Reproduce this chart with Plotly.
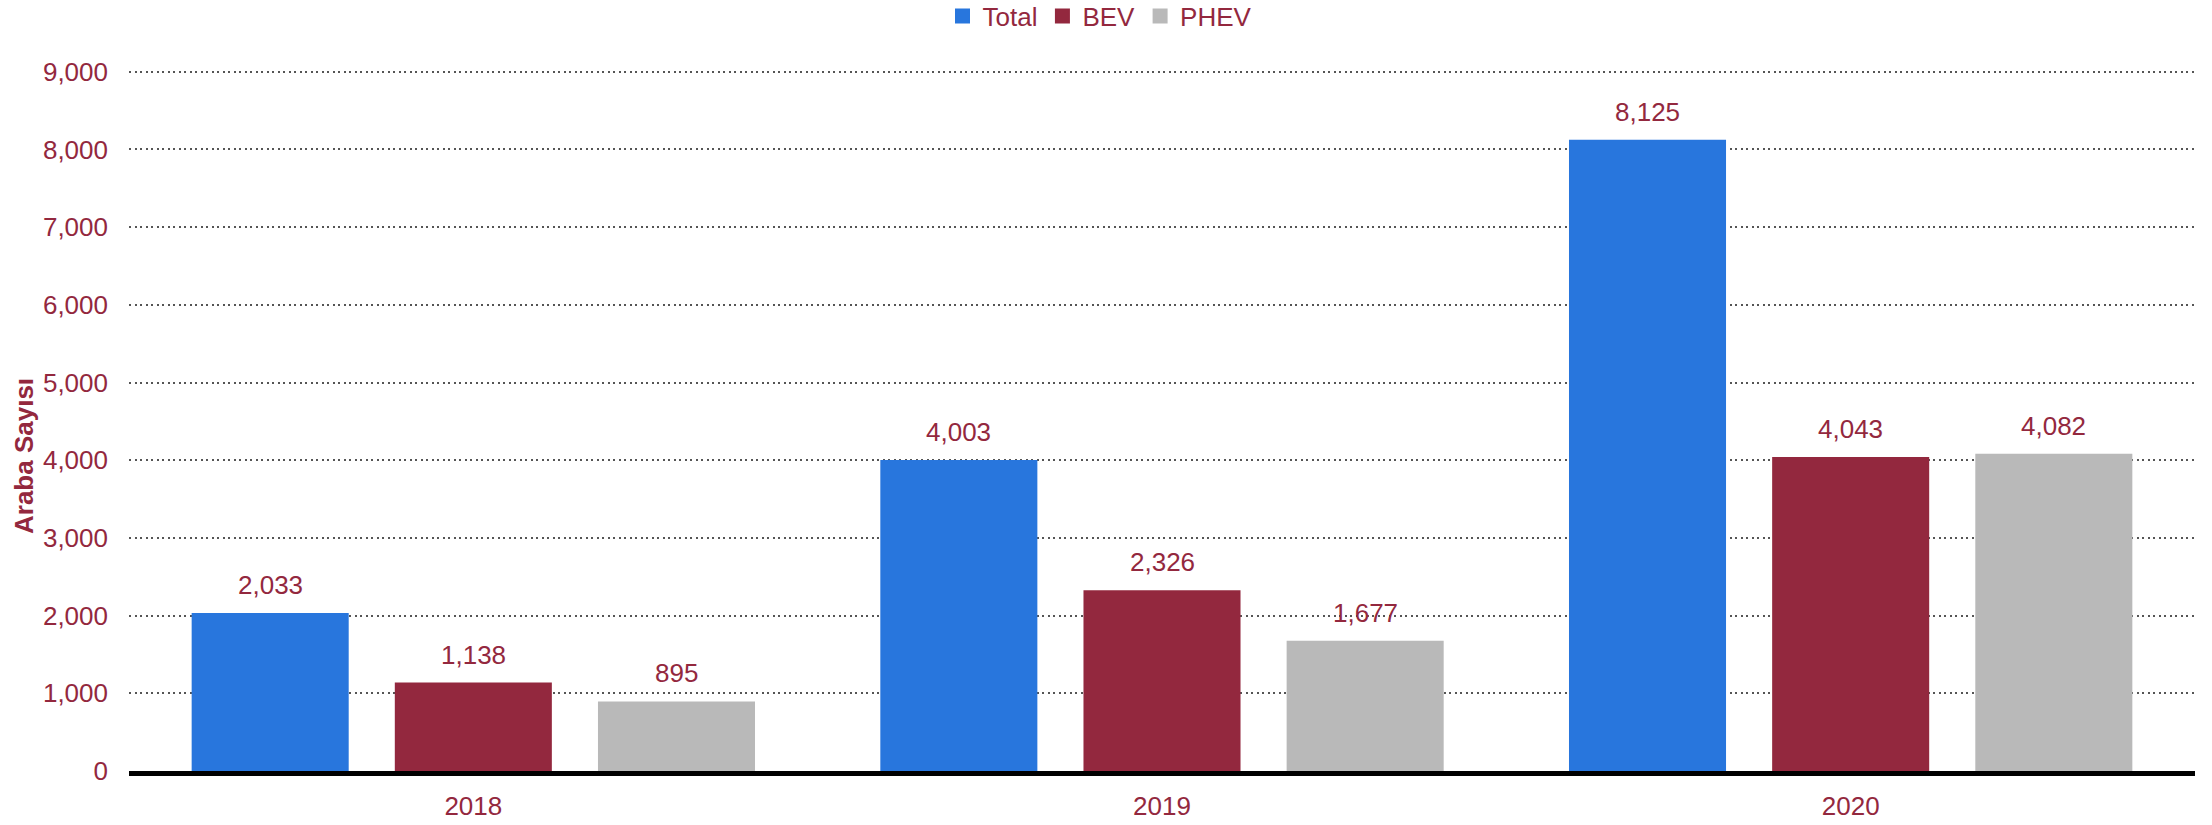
import plotly.graph_objects as go

years = ["2018", "2019", "2020"]
series_names = ["Total", "BEV", "PHEV"]
total = [2033, 4003, 8125]
bev = [1138, 2326, 4043]
phev = [895, 1677, 4082]
y_ticks = [0, 1000, 2000, 3000, 4000, 5000, 6000, 7000, 8000, 9000]
y_title = "Araba Sayısı"

colors = ["#2876DD", "#93283E", "#B9B9B9"]
maroon = "#93283E"
FONT = "Arial, 'Liberation Sans', sans-serif"
FS = 26

W_IMG, H_IMG = 2212, 825
ML, MR, MT, MB = 129, 17, 64, 54
BARGAP, BARGROUPGAP = 0.115, 0.227

fig = go.Figure()
all_vals = [total, bev, phev]
for name, vals, col in zip(series_names, all_vals, colors):
    fig.add_trace(go.Bar(
        x=years, y=vals, name=name,
        marker=dict(color=col, line=dict(width=0)),
        showlegend=False,
    ))
for name, col in zip(series_names, colors):
    # legend proxies with larger square symbol
    fig.add_trace(go.Scatter(
        x=years, y=[None] * len(years), mode="markers", name=name,
        marker=dict(symbol="square", size=15, color=col),
        showlegend=True, hoverinfo="skip",
    ))

# data labels as annotations aligned with grouped bars
plot_w = W_IMG - ML - MR
plot_h = H_IMG - MT - MB
cat_w = plot_w / len(years)
slot = cat_w * (1 - BARGAP) / len(series_names)
for j, vals in enumerate(all_vals):
    for i, v in enumerate(vals):
        fig.add_annotation(
            x=i, y=v, xref="x", yref="y",
            text=f"{v:,}", showarrow=False,
            xshift=(j - 1) * slot, yshift=28, yanchor="middle",
            font=dict(family=FONT, size=FS, color=maroon),
        )

# y-axis title (placed slightly below plot centre as in the original)
fig.add_annotation(
    xref="paper", yref="paper",
    x=(24 - ML) / plot_w, y=(H_IMG - MB - 456) / plot_h,
    xanchor="center", yanchor="middle", textangle=-90,
    text=f"<b>{y_title}</b>", showarrow=False,
    font=dict(family=FONT, size=FS, color=maroon),
)

fig.update_layout(
    width=W_IMG, height=H_IMG,
    margin=dict(l=ML, r=MR, t=MT, b=MB, autoexpand=False),
    plot_bgcolor="white", paper_bgcolor="white",
    barmode="group", bargap=BARGAP, bargroupgap=BARGROUPGAP,
    font=dict(family=FONT, size=FS, color=maroon),
    legend=dict(
        orientation="h", xref="container", yref="container",
        x=0.5 - 6 / W_IMG, xanchor="center", y=1 - 16 / H_IMG, yanchor="middle",
        font=dict(family=FONT, size=FS, color=maroon),
        itemclick=False, tracegroupgap=0,
    ),
    xaxis=dict(
        type="category", categoryarray=years, categoryorder="array",
        range=[-0.5, len(years) - 0.5], automargin=False,
        showgrid=False, showline=True,
        linecolor="black", linewidth=5, ticks="",
        tickfont=dict(family=FONT, size=FS, color=maroon),
        ticklabelstandoff=8,
        zeroline=False,
    ),
    yaxis=dict(
        range=[0, 9100], tickvals=y_ticks, tickformat=",",
        automargin=False,
        showgrid=True, gridcolor="#555555", gridwidth=1.5,
        griddash="2px,3.5px", zeroline=False, showline=False,
        tickfont=dict(family=FONT, size=FS, color=maroon),
        ticklabelstandoff=20,
    ),
)

fig.write_html("out.html", config={"displayModeBar": False},
               post_script="document.body.style.margin='0';document.body.style.overflow='hidden';")
